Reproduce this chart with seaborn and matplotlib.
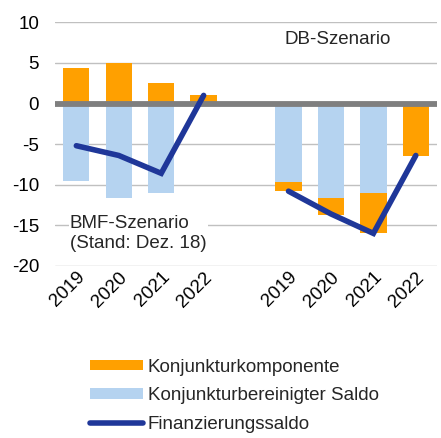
import matplotlib
matplotlib.use("Agg")
import matplotlib.pyplot as plt
from matplotlib.lines import Line2D
from matplotlib.patches import Patch
import numpy as np
import pandas as pd
import seaborn as sns

# Daten (Mrd. Euro), zwei Szenarien mit Leerspalte dazwischen
categories = ["BMF 2019", "BMF 2020", "BMF 2021", "BMF 2022", "gap",
              "DB 2019", "DB 2020", "DB 2021", "DB 2022"]
tick_labels = ["2019", "2020", "2021", "2022", "", "2019", "2020", "2021", "2022"]
konjunktur = [4.4, 5.0, 2.5, 1.0, np.nan, -1.1, -2.0, -4.9, -6.5]
bereinigt = [-9.6, -11.6, -11.0, 0.0, np.nan, -9.7, -11.7, -11.0, 0.0]
saldo = [-5.2, -6.4, -8.6, 1.0, np.nan, -10.8, -13.6, -16.0, -6.4]

ORANGE = "#FFA000"
LIGHTBLUE = "#B5D3F0"
NAVY = "#1F3799"
FONT = ["Liberation Sans", "DejaVu Sans"]
FS = 13.5

sns.set_theme(style="white")
plt.rcParams["font.family"] = FONT
plt.rcParams["font.size"] = FS
plt.rcParams["axes.unicode_minus"] = False

df = pd.DataFrame({"kat": categories, "konj": konjunktur, "ber": bereinigt, "saldo": saldo})
# Konjunkturkomponente wird in Excel-Manier hinter den bereinigten Saldo gestapelt
same_sign = np.sign(df["konj"]) == np.sign(df["ber"])
df["konj_aussen"] = np.where(same_sign, df["konj"] + df["ber"], df["konj"])

fig = plt.figure(figsize=(4.41, 4.38), dpi=100)
ax = fig.add_axes([0.125, 0.393, 0.866, 0.556])

sns.barplot(data=df, x="kat", y="konj_aussen", order=categories, color=ORANGE,
            width=0.62, saturation=1, linewidth=0, ax=ax, zorder=2)
sns.barplot(data=df, x="kat", y="ber", order=categories, color=LIGHTBLUE,
            width=0.62, saturation=1, linewidth=0, ax=ax, zorder=2)

pos = {k: i for i, k in enumerate(categories)}
for prefix in ["BMF", "DB"]:
    sub = df[df["kat"].str.startswith(prefix)].copy()
    sub["x"] = sub["kat"].map(pos)
    sns.lineplot(data=sub, x="x", y="saldo", color=NAVY, lw=4, ax=ax,
                 zorder=4, solid_capstyle="round", solid_joinstyle="miter")

ax.axhline(0, color="#7F7F7F", lw=4.2, zorder=3)
ax.set_ylim(-20, 10)
ax.set_xlim(-0.5, len(categories) - 0.5)
ax.set_yticks(range(-20, 11, 5))
ax.yaxis.grid(True, color="#C0C0C0", lw=1, zorder=0)
ax.set_axisbelow(True)
ax.set_xticks(range(len(categories)))
ax.set_xticklabels(tick_labels, rotation=45, ha="right", rotation_mode="anchor")
ax.tick_params(axis="y", length=0, pad=11.5, labelsize=FS, colors="black")
ax.tick_params(axis="x", length=0, pad=2, labelsize=FS, colors="black")
ax.set_xlabel("")
ax.set_ylabel("")
for s in ax.spines.values():
    s.set_visible(False)

ax.text(6.16, 7.9, "DB-Szenario", ha="center", va="center", fontsize=FS)
ax.text(-0.15, -16.0, "BMF-Szenario\n(Stand: Dez. 18)", ha="left", va="center",
        fontsize=FS, linespacing=1.25,
        bbox=dict(facecolor="white", edgecolor="none", pad=1))

handles = [
    Patch(facecolor=ORANGE, edgecolor="none", label="Konjunkturkomponente"),
    Patch(facecolor=LIGHTBLUE, edgecolor="none", label="Konjunkturbereinigter Saldo"),
    Line2D([0], [0], color=NAVY, lw=4, solid_capstyle="round", label="Finanzierungssaldo"),
]
fig.legend(handles=handles, loc="upper left", bbox_to_anchor=(0.205, 0.181),
           frameon=False, fontsize=FS, handlelength=2.8, handleheight=0.5,
           handletextpad=0.25, labelspacing=0.62, borderaxespad=0, borderpad=0)

fig.savefig("out.png", dpi=100)
